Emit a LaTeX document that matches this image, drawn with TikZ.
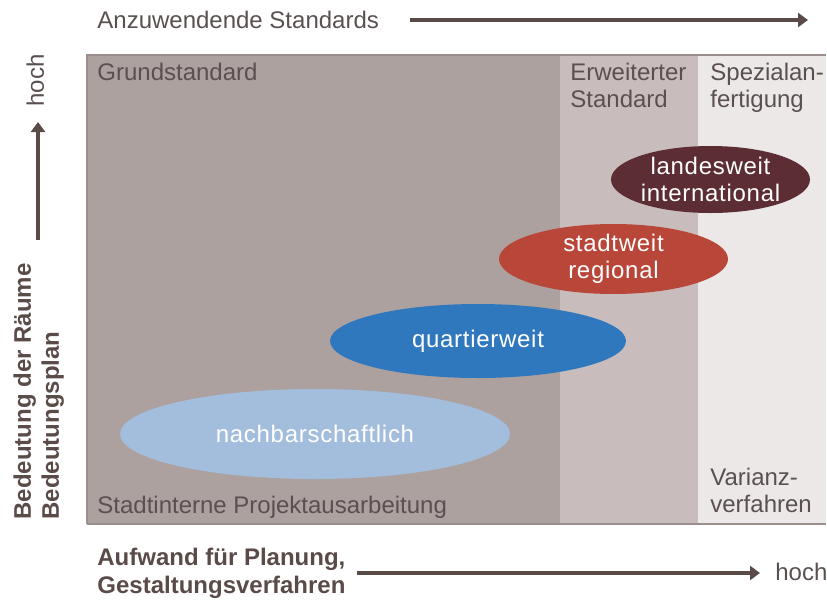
\documentclass[tikz,border=0pt]{standalone}
\usepackage{fontspec}
\setmainfont{Liberation Sans}
\newfontfamily\ellipsefont[LetterSpace=3]{Liberation Sans}
\usepackage{xcolor}
\usepackage{tikz}
\usetikzlibrary{arrows.meta,positioning,shapes.geometric}
\definecolor{PlanBase}{HTML}{ACA19F}
\definecolor{PlanMid}{HTML}{C8BDBC}
\definecolor{PlanSpecial}{HTML}{ECE8E7}
\definecolor{PlanEdge}{HTML}{9A8F8D}
\definecolor{PlanText}{HTML}{5A5050}
\definecolor{PlanArrow}{HTML}{5A4B48}
\definecolor{ScaleNeighbour}{HTML}{A3BEDD}
\definecolor{ScaleQuarter}{HTML}{2F78BD}
\definecolor{ScaleCity}{HTML}{B8473A}
\definecolor{ScaleNation}{HTML}{5C2E33}
\tikzset{
  zonelabel/.style={anchor=base west, align=left, inner sep=0pt, text=PlanText,
    font=\fontsize{12}{13.5}\selectfont},
  axislabel/.style={anchor=base west, align=left, inner sep=0pt, text=PlanArrow,
    font=\fontsize{12}{14}\selectfont},
  scalebubble/.style={ellipse, inner sep=0pt, align=center, text=white,
    font=\ellipsefont\fontsize{12}{13.5}\selectfont},
  axis/.style={-{Triangle[length=5pt, width=7pt]}, line width=2pt, draw=PlanArrow}
}

\begin{document}
\begin{tikzpicture}[x=0.5pt, y=-0.5pt]
  \useasboundingbox (0,0) rectangle (827,601);
  % zones
  \fill[PlanBase] (87,55) rectangle (560,524);
  \fill[PlanMid] (560,55) rectangle (698,524);
  \fill[PlanSpecial] (698,55) rectangle (826,524);
  \draw[PlanEdge, line width=0.8pt] (87,524) -- (87,55) -- (826,55);
  \draw[PlanEdge, line width=0.8pt] (87,524) -- (826,524);
  % multi-line labels sit on their last baseline
  \node[zonelabel] (base) at (97,80) {Grundstandard};
  \node[zonelabel] (intern) at (97,513) {Stadtinterne Projektausarbeitung};
  \node[zonelabel] (extended) at (570,107) {Erweiterter\\Standard};
  \node[zonelabel] (special) at (710,107) {Spezialan-\\fertigung};
  \node[zonelabel] (variance) at (710,512) {Varianz-\\verfahren};
  % scales
  \node[scalebubble, fill=ScaleNeighbour, minimum width=195pt, minimum height=45pt] (neighbour) at (315,434) {nachbarschaftlich};
  \node[scalebubble, fill=ScaleQuarter, minimum width=148pt, minimum height=37pt] (quarter) at (478,341) {quartierweit};
  \node[scalebubble, fill=ScaleCity, minimum width=114.5pt, minimum height=35pt] (city) at (613.5,259) {stadtweit\\regional};
  \node[scalebubble, fill=ScaleNation, minimum width=99.5pt, minimum height=33.5pt] (nation) at (710.5,179.5) {landesweit\\international};
  % axes
  \node[axislabel, text=PlanText] (standards) at (97,28) {Anzuwendende Standards};
  \coordinate (standardsstart) at (410,20);
  \coordinate (standardsend) at (808,20);
  \draw[axis] (standardsstart) -- (standardsend);
  \node[axislabel, font=\bfseries\fontsize{12}{14}\selectfont, rotate=90] (importance) at (59,520) {Bedeutung der Räume\\Bedeutungsplan};
  \node[axislabel, text=PlanText, rotate=90] (importancehigh) at (44,107) {hoch};
  \coordinate (importancestart) at (38,240);
  \coordinate (importanceend) at (38,122);
  \draw[axis] (importancestart) -- (importanceend);
  \node[axislabel, font=\bfseries\fontsize{12}{14}\selectfont] (effort) at (97,593) {Aufwand für Planung,\\Gestaltungsverfahren};
  \node[axislabel, text=PlanText] (efforthigh) at (775,580) {hoch};
  \coordinate (effortstart) at (357,573);
  \coordinate (effortend) at (760,573);
  \draw[axis] (effortstart) -- (effortend);
\end{tikzpicture}
\end{document}
